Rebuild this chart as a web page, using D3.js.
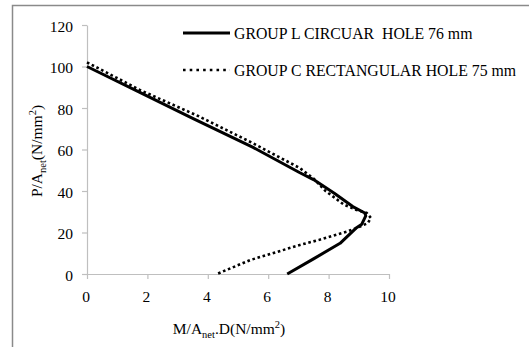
<!DOCTYPE html>
<html>
<head>
<meta charset="utf-8">
<script src="https://cdn.jsdelivr.net/npm/d3@7"></script>
<style>
  body { margin: 0; background: #fff; }
  svg { display: block; }
  svg text { font-family: "Liberation Serif", "DejaVu Serif", serif !important; fill: #000; }
</style>
</head>
<body>
<div id="chart"></div>
<script>
// values: [M/Anet.D, P/Anet]
const groupL = [
    [0, 100], [1.75, 87.5], [3.5, 75], [5.5, 61], [7.05, 48.8], [7.5, 45.5],
    [8.2, 38.8], [8.8, 32.5], [9.2, 29.4], [9.23, 28], [9.1, 24],
    [8.9, 22], [8.38, 14.8], [7.5, 7.3], [6.63, 0]
];
const groupC = [
    [0, 102], [1.75, 88.7], [3.7, 76], [5.5, 63], [7.05, 51], [7.5, 46],
    [7.9, 40], [8.5, 33.5], [8.9, 31], [9.26, 29.5], [9.4, 27], [9.3, 24.5],
    [8.9, 22], [8.6, 20.4], [7.7, 16.5], [7.05, 14], [5.4, 6.7], [4.3, 0]
];
const seriesNames = ["GROUP L CIRCUAR\u00a0 HOLE 76 mm", "GROUP C RECTANGULAR HOLE 75 mm"];
const xTicks = [0, 2, 4, 6, 8, 10];
const yTicks = [0, 20, 40, 60, 80, 100, 120];

const serif = '"Liberation Serif", "DejaVu Serif", serif';

class MomentChart {
    constructor(parentElement) {
        this.parentElement = parentElement;
        this.initVis();
    }

    initVis() {
        let vis = this;
        vis.width = 529;
        vis.height = 347;

        vis.svg = d3.select("#" + vis.parentElement).append("svg")
            .attr("width", vis.width)
            .attr("height", vis.height)
            .attr("font-family", serif);

        // outer frame (runs off the right and bottom edges)
        vis.svg.append("rect")
            .attr("x", 12.5).attr("y", 5.5)
            .attr("width", 600).attr("height", 400)
            .attr("fill", "none")
            .attr("stroke", "#8a8a8a")
            .attr("stroke-width", 1.5);

        vis.x = d3.scaleLinear().domain([0, 10]).range([87, 389]);
        vis.y = d3.scaleLinear().domain([0, 120]).range([274, 25]);

        // axes
        let xAxis = vis.svg.append("g")
            .attr("transform", "translate(0," + vis.y(0) + ")")
            .call(d3.axisBottom(vis.x).tickValues(xTicks).tickSize(5).tickSizeOuter(0).tickPadding(12));
        let yAxis = vis.svg.append("g")
            .attr("transform", "translate(" + vis.x(0) + ",0)")
            .call(d3.axisLeft(vis.y).tickValues(yTicks).tickSize(5).tickSizeOuter(0).tickPadding(9));

        [xAxis, yAxis].forEach(a => {
            a.attr("font-family", serif);
            a.select(".domain").attr("stroke", "#bfbfbf").attr("stroke-width", 1.2);
            a.selectAll(".tick line").attr("stroke", "#bfbfbf").attr("stroke-width", 1.2);
            a.selectAll(".tick text")
                .style("font-family", serif)
                .attr("font-size", 15.5)
                .attr("fill", "#000");
        });
        xAxis.selectAll(".tick text").attr("dx", -1.5);
        yAxis.selectAll(".tick text").attr("dy", "0.4em");

        // axis titles
        let xt = vis.svg.append("text")
            .attr("x", 229).attr("y", 334)
            .attr("text-anchor", "middle")
            .attr("font-size", 15.5);
        xt.append("tspan").text("M/A");
        xt.append("tspan").attr("font-size", 10.5).attr("dy", 4).text("net");
        xt.append("tspan").attr("dy", -4).text(".D(N/mm");
        xt.append("tspan").attr("font-size", 10.5).attr("dy", -6).text("2");
        xt.append("tspan").attr("dy", 6).text(")");

        let yt = vis.svg.append("text")
            .attr("transform", "translate(42,151) rotate(-90)")
            .attr("text-anchor", "middle")
            .attr("font-size", 15.5);
        yt.append("tspan").text("P/A");
        yt.append("tspan").attr("font-size", 10.5).attr("dy", 4).text("net");
        yt.append("tspan").attr("dy", -4).text("(N/mm");
        yt.append("tspan").attr("font-size", 10.5).attr("dy", -6).text("2");
        yt.append("tspan").attr("dy", 6).text(")");

        // lines
        let line = d3.line()
            .x(d => vis.x(d[0]))
            .y(d => vis.y(d[1]))
            .curve(d3.curveLinear);

        vis.svg.append("path")
            .datum(groupL)
            .attr("d", line)
            .attr("fill", "none")
            .attr("stroke", "#000")
            .attr("stroke-width", 3)
            .attr("stroke-linejoin", "round");

        vis.svg.append("path")
            .datum(groupC)
            .attr("d", line)
            .attr("fill", "none")
            .attr("stroke", "#000")
            .attr("stroke-width", 2.6)
            .attr("stroke-dasharray", "2.6,2.7");

        // legend
        let legend = vis.svg.append("g");
        legend.append("line")
            .attr("x1", 183).attr("x2", 230).attr("y1", 33).attr("y2", 33)
            .attr("stroke", "#000").attr("stroke-width", 3);
        legend.append("line")
            .attr("x1", 183).attr("x2", 230).attr("y1", 70).attr("y2", 70)
            .attr("stroke", "#000").attr("stroke-width", 2.6)
            .attr("stroke-dasharray", "2.6,4.1");
        legend.append("text").attr("x", 234).attr("y", 39).attr("font-size", 15.8).text(seriesNames[0]);
        legend.append("text").attr("x", 234).attr("y", 76).attr("font-size", 15.8).text(seriesNames[1]);
    }
}

new MomentChart("chart");
</script>
</body>
</html>
